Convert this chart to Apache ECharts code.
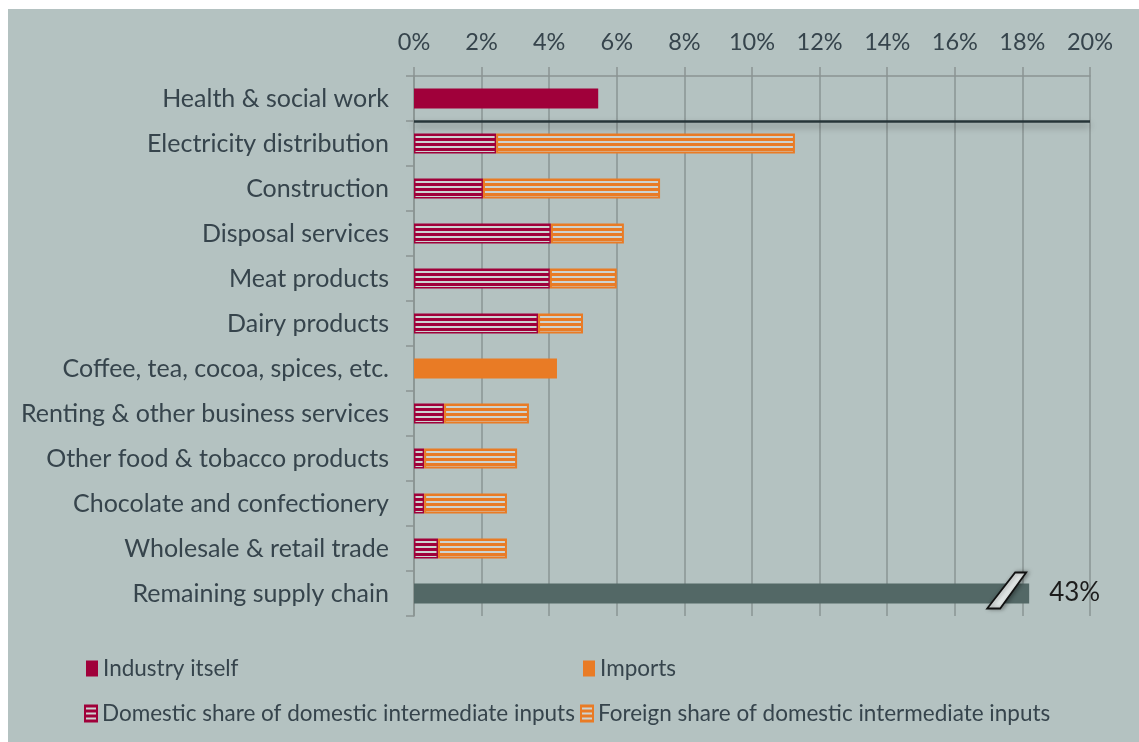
<!DOCTYPE html>
<html>
<head>
<meta charset="utf-8">
<script src="https://cdn.jsdelivr.net/npm/echarts@6/dist/echarts.min.js"></script>
<style>
  html, body { margin: 0; padding: 0; background: #ffffff; }
  #chart { position: absolute; left: 8px; top: 9px; width: 1131px; height: 733px; background: #b4c2c1; }
</style>
</head>
<body>
<div id="chart"></div>
<script>
// categories, top to bottom
var categories = [
  "Health & social work",
  "Electricity distribution",
  "Construction",
  "Disposal services",
  "Meat products",
  "Dairy products",
  "Coffee, tea, cocoa, spices, etc.",
  "Renting & other business services",
  "Other food & tobacco products",
  "Chocolate and confectionery",
  "Wholesale & retail trade",
  "Remaining supply chain"
];
// shares in %
var industryItself = [5.45, "-", "-", "-", "-", "-", "-", "-", "-", "-", "-", "-"];
var domesticShare = ["-", 2.43, 2.04, 4.05, 4.02, 3.67, "-", 0.89, 0.30, 0.30, 0.71, "-"];
var foreignShare = ["-", 8.84, 5.24, 2.16, 1.98, 1.33, "-", 2.51, 2.75, 2.45, 2.04, "-"];
var imports = ["-", "-", "-", "-", "-", "-", 4.23, "-", "-", "-", "-", "-"];
var remaining = ["-", "-", "-", "-", "-", "-", "-", "-", "-", "-", "-", 43];
var xTicks = [0, 2, 4, 6, 8, 10, 12, 14, 16, 18, 20];
var breakAt = 18.2;      // where the broken bar is cut
var breakMarkAt = 17.55; // where the // sign sits
var separatorAfter = 1;  // rows above the dark rule

var font = "Lato";
var textColor = "#36444c";
var crimson = "#a0003a";
var orange = "#e97b25";
var slate = "#536866";
var light = "#cdd3d1";

function stripes(color) {
  var c = document.createElement("canvas");
  c.width = 4;
  c.height = 5;
  var ctx = c.getContext("2d");
  ctx.fillStyle = light;
  ctx.fillRect(0, 0, 4, 5);
  ctx.fillStyle = color;
  ctx.fillRect(0, 0, 4, 2);
  ctx.fillRect(0, 4, 4, 1);
  return c;
}

var myChart = echarts.init(document.getElementById("chart"));

var remainingData = [];
remaining.forEach(function (v, i) {
  if (v !== "-") remainingData.push([v, i]);
});

var legendBase = {
  orient: "horizontal",
  padding: 0,
  itemWidth: 12,
  itemHeight: 16,
  icon: "rect",
  textStyle: { fontFamily: font, fontSize: 22.5, color: textColor, lineHeight: 22 },
  selectedMode: false
};

var option = {
  animation: false,
  grid: { left: 406, right: 49, top: 67, bottom: 126 },
  legend: [
    Object.assign({}, legendBase, { data: ["Industry itself"], left: 78, top: 648 }),
    Object.assign({}, legendBase, { data: ["Imports"], left: 575, top: 648 }),
    Object.assign({}, legendBase, { data: ["Domestic share of domestic intermediate inputs"], left: 76, top: 693 }),
    Object.assign({}, legendBase, { data: ["Foreign share of domestic intermediate inputs"], left: 572, top: 693 })
  ],
  xAxis: {
    type: "value",
    position: "top",
    min: xTicks[0],
    max: xTicks[xTicks.length - 1],
    interval: xTicks[1] - xTicks[0],
    axisLine: { show: true, lineStyle: { color: "#8a9493", width: 1.5 } },
    axisTick: { show: true, length: 9, lineStyle: { color: "#8a9493", width: 1.5 } },
    axisLabel: {
      formatter: "{value}%",
      fontFamily: font,
      fontSize: 23.5,
      color: textColor,
      margin: 22
    },
    splitLine: { show: true, lineStyle: { color: "#8a9493", width: 1.5 } }
  },
  yAxis: [
    {
      type: "category",
      inverse: true,
      data: categories,
      axisLine: { show: true, lineStyle: { color: "#8a9493", width: 1.5 } },
      axisTick: { show: true, length: 8, lineStyle: { color: "#8a9493", width: 1.5 } },
      axisLabel: { fontFamily: font, fontSize: 25, color: textColor, margin: 25 }
    },
    {
      type: "value",
      show: false,
      inverse: true,
      min: 0,
      max: categories.length
    }
  ],
  series: [
    {
      name: "Industry itself",
      type: "bar",
      stack: "total",
      barWidth: 20,
      itemStyle: { color: crimson },
      data: industryItself
    },
    {
      name: "Domestic share of domestic intermediate inputs",
      type: "bar",
      stack: "total",
      barWidth: 20,
      itemStyle: {
        color: { image: stripes(crimson), repeat: "repeat" },
        borderColor: crimson,
        borderWidth: 1.5
      },
      data: domesticShare
    },
    {
      name: "Foreign share of domestic intermediate inputs",
      type: "bar",
      stack: "total",
      barWidth: 20,
      itemStyle: {
        color: { image: stripes(orange), repeat: "repeat" },
        borderColor: orange,
        borderWidth: 2
      },
      data: foreignShare
    },
    {
      name: "Imports",
      type: "bar",
      stack: "total",
      barWidth: 20,
      itemStyle: { color: orange },
      data: imports
    },
    {
      name: "Remaining supply chain",
      type: "custom",
      encode: { x: 0, y: 1 },
      renderItem: function (params, api) {
        var v = api.value(0);
        var c = api.value(1);
        var p0 = api.coord([0, c]);
        var p1 = api.coord([Math.min(v, breakAt), c]);
        var pm = api.coord([breakMarkAt, c]);
        var cy = p0[1] - 3;
        return {
          type: "group",
          children: [
            {
              type: "rect",
              shape: { x: p0[0], y: p0[1] - 10, width: p1[0] - p0[0], height: 20 },
              style: { fill: slate }
            },
            {
              type: "polygon",
              shape: {
                points: [
                  [pm[0] - 20, cy + 18],
                  [pm[0] - 7, cy + 18],
                  [pm[0] + 19, cy - 18],
                  [pm[0] + 8, cy - 18]
                ]
              },
              style: {
                fill: "#e3e8e7",
                stroke: "#111111",
                lineWidth: 1.8,
                shadowBlur: 4,
                shadowColor: "rgba(0,0,0,0.35)",
                shadowOffsetX: 2
              }
            },
            {
              type: "text",
              style: {
                text: v + "%",
                x: p1[0] + 20,
                y: p0[1] - 1,
                align: "left",
                verticalAlign: "middle",
                fontFamily: font,
                fontSize: 26,
                fill: "#1c1c1c"
              }
            }
          ]
        };
      },
      data: remainingData,
      z: 3
    },
    {
      name: "separator",
      type: "line",
      yAxisIndex: 1,
      data: [],
      markLine: {
        silent: true,
        symbol: "none",
        label: { show: false },
        lineStyle: {
          color: "#263538",
          width: 2.5,
          type: "solid",
          shadowColor: "rgba(0,0,0,0.4)",
          shadowBlur: 7,
          shadowOffsetY: 4
        },
        data: [{ yAxis: separatorAfter }]
      }
    }
  ]
};

myChart.setOption(option);
</script>
</body>
</html>
